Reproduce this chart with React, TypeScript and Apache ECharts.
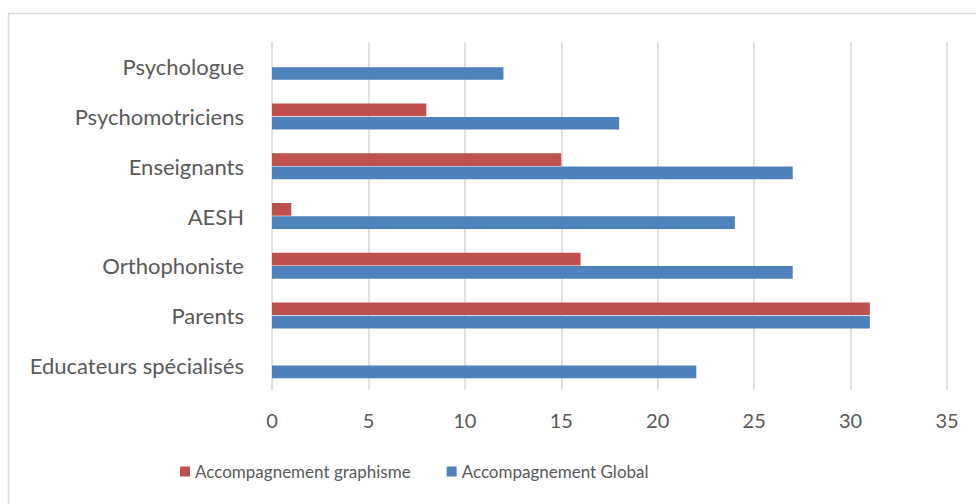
import React, { useEffect, useRef } from "react";
import * as echarts from "echarts";

const categories = [
  "Educateurs spécialisés",
  "Parents",
  "Orthophoniste",
  "AESH",
  "Enseignants",
  "Psychomotriciens",
  "Psychologue",
];
const graphismeName = "Accompagnement graphisme";
const globalName = "Accompagnement Global";
const graphismeValues = [0, 31, 16, 1, 15, 8, 0];
const globalValues = [22, 31, 27, 24, 27, 18, 12];
const xTicks = { min: 0, max: 35, interval: 5 };

const FONT = "Lato";
const TEXT = "#595959";

export default function App() {
  const ref = useRef<HTMLDivElement>(null);
  useEffect(() => {
    if (!ref.current) return;
    const chart = echarts.init(ref.current, null, { renderer: "svg" });
    chart.setOption({
      animation: false,
      backgroundColor: "#ffffff",
      textStyle: { fontFamily: FONT },
      graphic: [
        {
          type: "rect",
          shape: { x: 8.5, y: 13.5, width: 990, height: 520 },
          style: { fill: "none", stroke: "#d9d9d9", lineWidth: 1.5 },
          silent: true,
        },
      ],
      grid: { left: 272, right: 29, top: 42, bottom: 114, containLabel: false },
      legend: {
        top: 458,
        left: 175,
        data: [graphismeName, globalName],
        icon: "rect",
        itemWidth: 10,
        itemHeight: 10,
        itemGap: 36,
        textStyle: { color: TEXT, fontSize: 17, fontFamily: FONT },
      },
      xAxis: {
        type: "value",
        min: xTicks.min,
        max: xTicks.max,
        interval: xTicks.interval,
        axisLine: { show: false },
        axisTick: { show: false },
        axisLabel: { color: TEXT, fontSize: 20, margin: 20, fontFamily: FONT },
        splitLine: { lineStyle: { color: "#d9d9d9", width: 1.5 } },
      },
      yAxis: {
        type: "category",
        data: categories,
        axisLine: { show: false },
        axisTick: { show: false },
        axisLabel: { color: TEXT, fontSize: 22, margin: 28, fontFamily: FONT },
      },
      series: [
        {
          name: graphismeName,
          type: "bar",
          data: graphismeValues,
          itemStyle: { color: "#c0504d" },
          barWidth: 12.7,
          barGap: "5%",
          barCategoryGap: "48%",
        },
        {
          name: globalName,
          type: "bar",
          data: globalValues,
          itemStyle: { color: "#4f81bd" },
          barWidth: 12.7,
          barGap: "5%",
          barCategoryGap: "48%",
        },
      ],
    });
    return () => chart.dispose();
  }, []);
  return (
    <div
      ref={ref}
      style={{ position: "fixed", left: 0, top: 0, width: 976, height: 504 }}
    />
  );
}
